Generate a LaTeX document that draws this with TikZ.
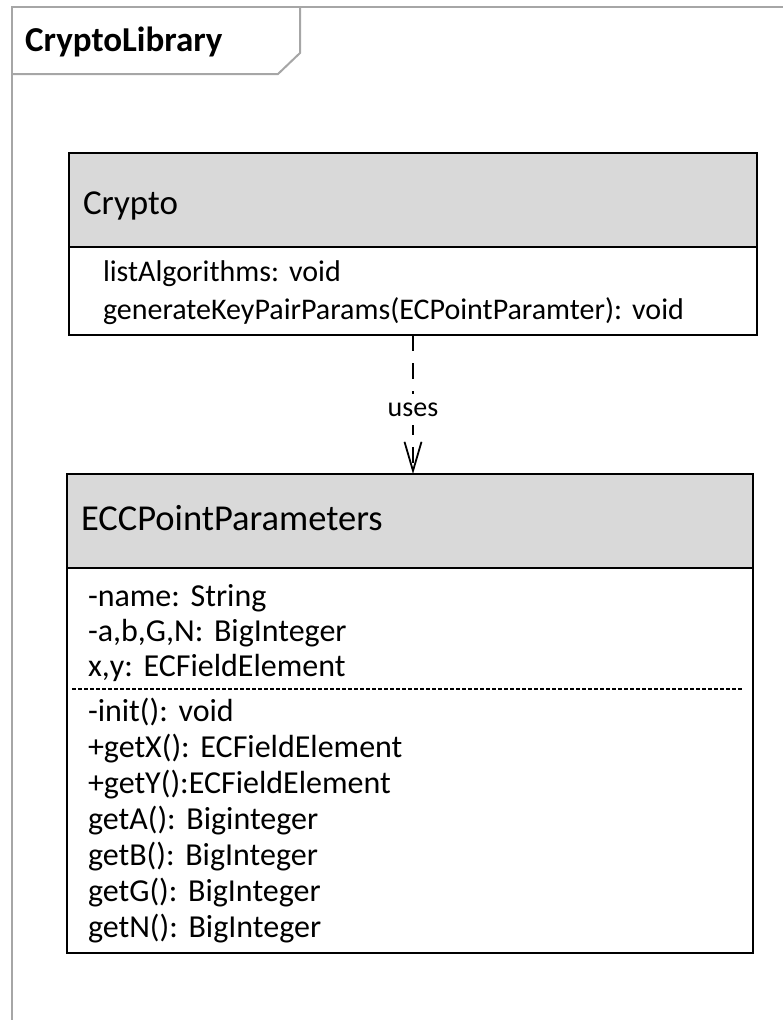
\documentclass[tikz,border=0pt]{standalone}
\usepackage{fontspec}
\setmainfont{Carlito}
\frenchspacing
\usetikzlibrary{arrows.meta}
\usetikzlibrary{calc}
\definecolor{pkgline}{HTML}{a6a6a6}
\definecolor{classhead}{HTML}{d9d9d9}
\tikzset{pkg frame/.style={draw=pkgline,line width=2pt}}
\tikzset{class line/.style={draw=black,line width=2.2pt}}
\tikzset{class head/.style={
    class line,fill=classhead,anchor=north west,outer sep=0pt,
    inner xsep=14pt,inner ysep=0pt,minimum height=94pt,align=left,
    text height=19pt,text depth=0pt,font=\fontsize{#1}{42}\selectfont}}
\tikzset{class part/.style 2 args={
    anchor=north west,outer sep=0pt,inner ysep=0pt,align=left,
    font=\fontsize{#1}{#2}\selectfont}}
\tikzset{uses line/.style={
    line width=1.8pt,dash pattern=on 16pt off 12pt,
    -{Straight Barb[length=29pt,width=17pt,line width=1.8pt]}}}

\begin{document}
\begin{tikzpicture}[x=1pt,y=-1pt]
  \useasboundingbox (0,0) rectangle (782,1020);
  % package frame with its tab
  \draw[pkg frame] (12,1030) -- (12,7) -- (790,7);
  \draw[pkg frame] (12,74) -- (278,74) -- (300,53) -- (300,7);
  \node[anchor=west,inner sep=0pt,font=\fontsize{35}{42}\selectfont\bfseries]
    (pkgtitle) at (25,42) {CryptoLibrary};

  % class Crypto
  \node[class head=35,text width=660pt,text height=28pt] (chead) at (69,153) {Crypto};
  \node[class part={30}{38pt},class line,inner xsep=34pt,text width=620pt,
    text height=12pt,text depth=32pt,minimum height=88pt] (cbody) at (chead.south west)
    {listAlgorithms: void\\generateKeyPairParams(ECPointParamter): void};

  % class ECCPointParameters
  \node[class head=36.5,text width=658pt] (ehead) at (67,474) {ECCPointParameters};
  \node[class part={32}{35pt},inner xsep=21pt,text width=644pt,
    text height=20pt,text depth=65pt,minimum height=121pt] (eattr) at (ehead.south west)
    {-name: String\\-a,b,G,N: BigInteger\\x,y: ECFieldElement};
  \node[class part={32}{36pt},inner xsep=21pt,text width=644pt,
    text height=20pt,text depth=220pt,minimum height=264pt] (eops) at (eattr.south west)
    {-init(): void\\+getX(): ECFieldElement\\+getY():ECFieldElement\\
     getA(): Biginteger\\getB(): BigInteger\\getG(): BigInteger\\
     getN(): BigInteger};
  \draw[class line] (ehead.south west) rectangle (eops.south east);
  \draw[line width=1.5pt,dash pattern=on 4pt off 2pt]
    ([xshift=5pt]eattr.south west) -- ([xshift=-10pt]eattr.south east);

  % dependency
  \draw[uses line] (cbody.south) --
    node[fill=white,inner xsep=3pt,inner ysep=9pt,yshift=-5pt,
      font=\fontsize{28}{34}\selectfont] (uses) {uses}
    (cbody.south |- ehead.north);
\end{tikzpicture}
\end{document}
